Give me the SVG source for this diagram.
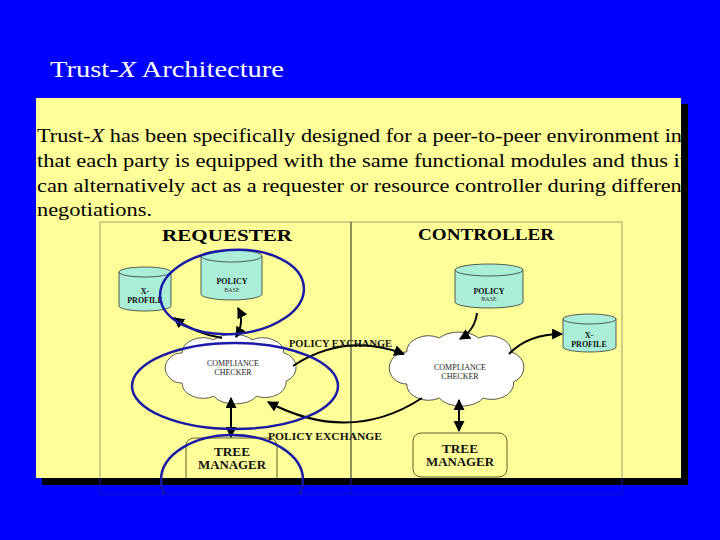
<svg xmlns="http://www.w3.org/2000/svg" width="720" height="540" viewBox="0 0 720 540">
<style>
.serif{font-family:"Liberation Serif","Times New Roman",serif}
.hdr{font-family:"Liberation Serif",serif;font-weight:bold;font-size:17px;text-anchor:middle}
.cyl{fill:#aaeed8;stroke:#333;stroke-width:0.8}
.lbl{font-family:"Liberation Serif",serif;font-weight:bold;font-size:8px;text-anchor:middle;fill:#111}
.sm{font-family:"Liberation Serif",serif;font-size:6px;text-anchor:middle;fill:#333}
.cc{font-family:"Liberation Serif",serif;font-size:8px;text-anchor:middle;fill:#222}
.tm{font-family:"Liberation Serif",serif;font-weight:bold;font-size:12px;text-anchor:middle;fill:#111}
.box{fill:#ffff99;stroke:#6b5a30;stroke-width:1}
.cloud{fill:#ffffff;stroke:#333;stroke-width:0.8}
.conn{fill:none;stroke:#000;stroke-width:2}
.hl{fill:none;stroke:#1a1aa8;stroke-width:2.5}
.pe{font-family:"Liberation Serif",serif;font-weight:bold;font-size:10px;fill:#111}
</style>
<defs>
<marker id="ah" viewBox="0 0 10 10" refX="9" refY="5" markerWidth="5.5" markerHeight="5.5" orient="auto-start-reverse">
<path d="M0,0 L10,5 L0,10 z" fill="#000"/>
</marker>
<path id="cloudshape" d="M -48,-16 A 20,16 0 0 1 -18,-30 A 22,14 0 0 1 18,-30 A 20,16 0 0 1 48,-16 A 16,16 0 0 1 50,14 A 20,16 0 0 1 22,30 A 22,14 0 0 1 -18,30 A 20,16 0 0 1 -48,16 A 16,16 0 0 1 -48,-16 Z"/>
<clipPath id="panel"><rect x="36" y="98" width="645" height="380"/></clipPath>
<clipPath id="img"><rect x="0" y="0" width="720" height="494"/></clipPath>
</defs>

<rect x="0" y="0" width="720" height="540" fill="#0000ff"/>

<g id="title">
<text class="serif" x="50" y="77" font-size="24" fill="#ffffff" textLength="234" lengthAdjust="spacingAndGlyphs">Trust-<tspan font-style="italic">X</tspan> Architecture</text>
</g>

<g id="panel-box">
<rect x="42" y="104" width="646" height="381" fill="#000"/>
<rect x="36" y="98" width="645" height="380" fill="#ffff99"/>
</g>

<g id="paragraph" clip-path="url(#panel)" class="serif" font-size="19" fill="#000">
<text x="37" y="142" textLength="645" lengthAdjust="spacingAndGlyphs">Trust-<tspan font-style="italic">X</tspan>  has been specifically designed for a peer-to-peer environment in</text>
<text x="37" y="167" textLength="649" lengthAdjust="spacingAndGlyphs">that each party is equipped with the same functional modules and thus it</text>
<text x="37" y="192" textLength="651" lengthAdjust="spacingAndGlyphs">can alternatively act as a requester or resource  controller during different</text>
<text x="37" y="216" textLength="115" lengthAdjust="spacingAndGlyphs">negotiations.</text>
</g>

<g id="frame-outside" stroke="#1010b8" stroke-width="1" fill="none">
<path d="M100,478 V494 H622 V478"/>
<path d="M351,478 V494"/>
</g>

<g id="diagram" clip-path="url(#panel)">
<g id="frame" fill="none">
<path d="M100,494 V222 H622 V494" stroke="#a09a70" stroke-width="1"/>
<line x1="351" y1="222" x2="351" y2="494" stroke="#222" stroke-width="1"/>
</g>
<g id="headers">
<text class="hdr" x="227" y="241" textLength="130" lengthAdjust="spacingAndGlyphs">REQUESTER</text>
<text class="hdr" x="486" y="240" textLength="136" lengthAdjust="spacingAndGlyphs">CONTROLLER</text>
</g>

<g id="req-xprofile">
<path class="cyl" d="M119,272 V306 A26,5 0 0 0 171,306 V272 Z"/>
<ellipse class="cyl" cx="145" cy="272" rx="26" ry="5"/>
<text class="lbl" x="145" y="294">X-</text>
<text class="lbl" x="145" y="303">PROFILE</text>
</g>

<g id="req-policybase">
<path class="cyl" d="M201,256 V294 A30.5,6 0 0 0 262,294 V256 Z"/>
<ellipse class="cyl" cx="231.5" cy="256" rx="30.5" ry="6"/>
<text class="lbl" x="232" y="284">POLICY</text>
<text class="sm" x="232" y="292">BASE</text>
</g>

<g id="req-checker">
<use href="#cloudshape" class="cloud" transform="translate(233,368) scale(1.06,0.94)"/>
<text class="cc" x="233" y="366">COMPLIANCE</text>
<text class="cc" x="233" y="375">CHECKER</text>
</g>

<g id="req-tree">
<rect class="box" x="186" y="438" width="91" height="54" rx="8"/>
<text class="tm" x="232" y="456" textLength="36" lengthAdjust="spacingAndGlyphs">TREE</text>
<text class="tm" x="232" y="469" textLength="68" lengthAdjust="spacingAndGlyphs">MANAGER</text>
</g>

<g id="ctl-policybase">
<path class="cyl" d="M455,270 V302 A34,6 0 0 0 523,302 V270 Z"/>
<ellipse class="cyl" cx="489" cy="270" rx="34" ry="6"/>
<text class="lbl" x="489" y="294">POLICY</text>
<text class="sm" x="489" y="301">BASE</text>
</g>

<g id="ctl-xprofile">
<path class="cyl" d="M563,319 V347 A26.5,5 0 0 0 616,347 V319 Z"/>
<ellipse class="cyl" cx="589.5" cy="319" rx="26.5" ry="5"/>
<text class="lbl" x="589" y="338">X-</text>
<text class="lbl" x="589" y="347">PROFILE</text>
</g>

<g id="ctl-checker">
<use href="#cloudshape" class="cloud" transform="translate(459,368) scale(1.09,1.0)"/>
<text class="cc" x="460" y="370">COMPLIANCE</text>
<text class="cc" x="460" y="379">CHECKER</text>
</g>

<g id="ctl-tree">
<rect class="box" x="413" y="433" width="94" height="44" rx="8"/>
<text class="tm" x="460" y="453" textLength="36" lengthAdjust="spacingAndGlyphs">TREE</text>
<text class="tm" x="460" y="466" textLength="68" lengthAdjust="spacingAndGlyphs">MANAGER</text>
</g>

<g id="connectors">
<path class="conn" d="M222,338 Q196,334 174,318" marker-end="url(#ah)"/>
<path class="conn" d="M236,337 Q245,322 238,308" marker-start="url(#ah)" marker-end="url(#ah)"/>
<path class="conn" d="M231,398 L231,437" marker-start="url(#ah)" marker-end="url(#ah)"/>
<path class="conn" d="M293,366 Q345,332 404,354" marker-end="url(#ah)"/>
<path class="conn" d="M422,398 Q350,445 268,402" marker-end="url(#ah)"/>
<path class="conn" d="M477,313 Q475,330 460,339" marker-end="url(#ah)"/>
<path class="conn" d="M509,354 Q528,334 562,334" marker-end="url(#ah)"/>
<path class="conn" d="M459,400 L459,431" marker-start="url(#ah)" marker-end="url(#ah)"/>
<text class="pe" x="289" y="347" textLength="103" lengthAdjust="spacingAndGlyphs">POLICY EXCHANGE</text>
<text class="pe" x="268" y="440" textLength="114" lengthAdjust="spacingAndGlyphs">POLICY EXCHANGE</text>
</g>
</g>

<g id="highlights" clip-path="url(#img)">
<ellipse class="hl" cx="232" cy="292" rx="72" ry="42" transform="rotate(-4 232 292)"/>
<ellipse class="hl" cx="235" cy="386" rx="103" ry="43"/>
<ellipse class="hl" cx="232" cy="480" rx="71" ry="45"/>
</g>
</svg>
